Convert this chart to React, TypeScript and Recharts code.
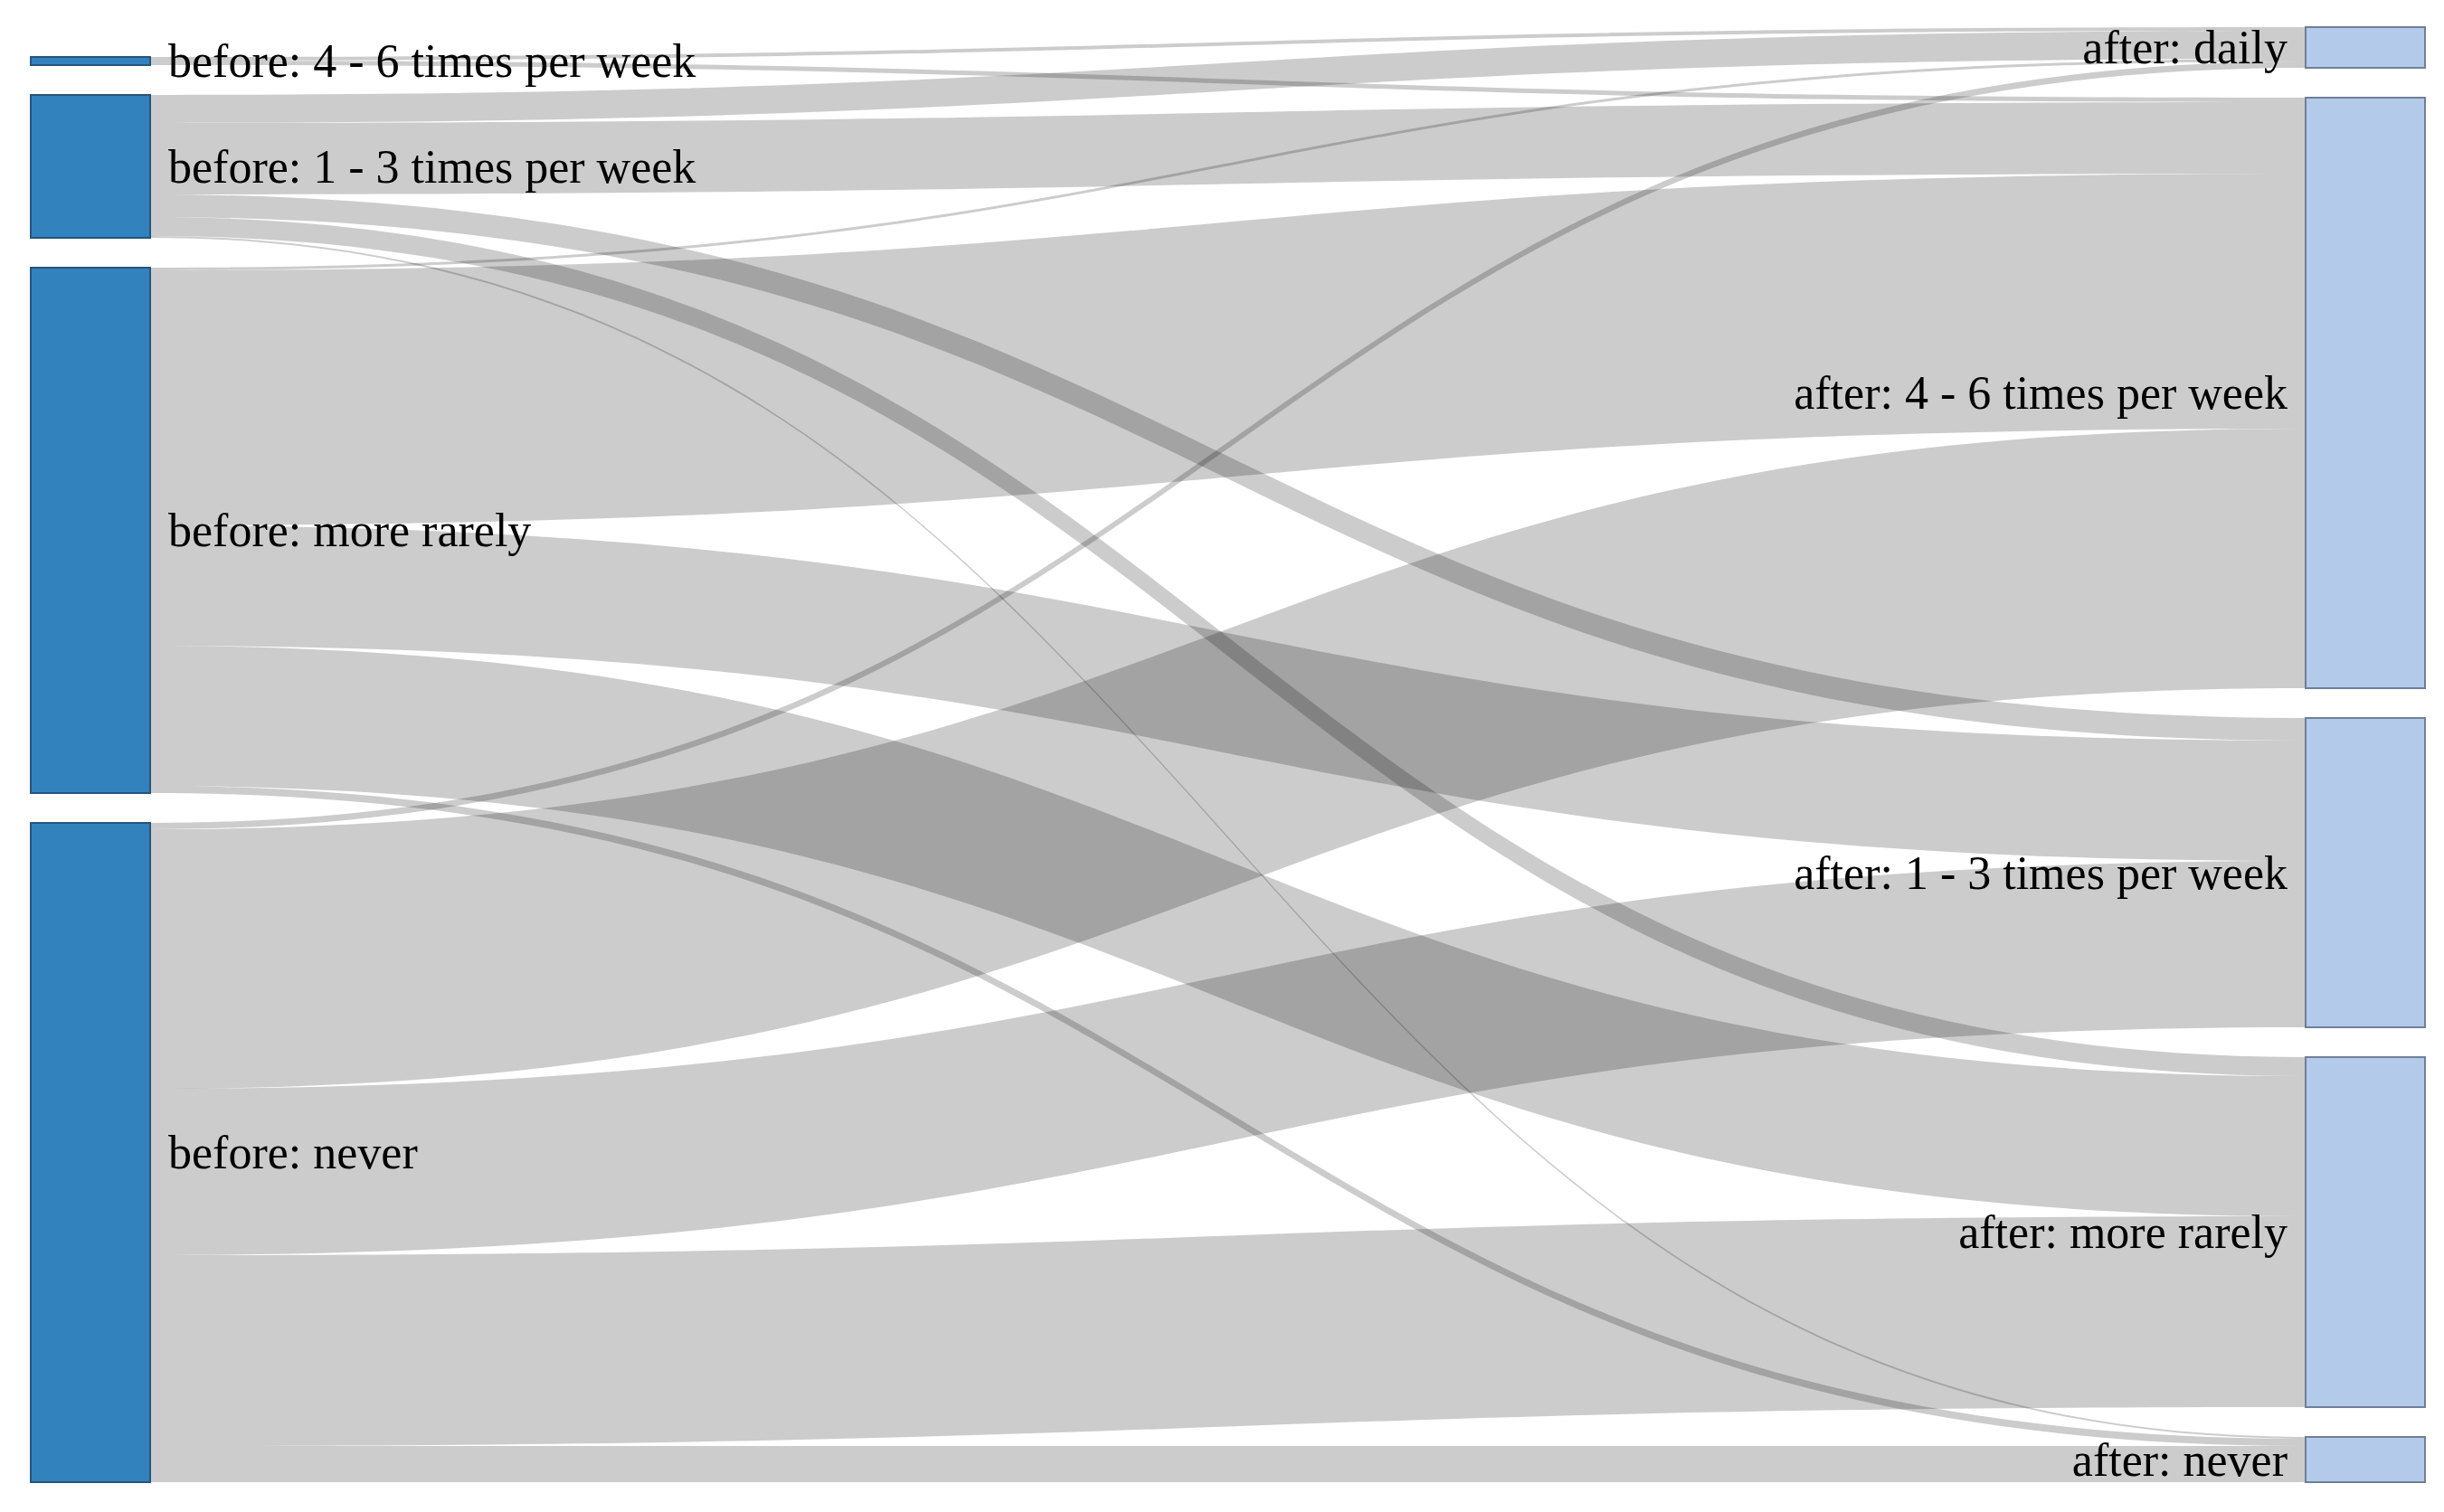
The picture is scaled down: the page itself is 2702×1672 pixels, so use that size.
import { Sankey } from 'recharts';

// node labels
const beforeLabels = [
  'before: 4 - 6 times per week',
  'before: 1 - 3 times per week',
  'before: more rarely',
  'before: never',
];
const afterLabels = [
  'after: daily',
  'after: 4 - 6 times per week',
  'after: 1 - 3 times per week',
  'after: more rarely',
  'after: never',
];

// flows out of each "before" group, one value per "after" group (same order as afterLabels)
const from4to6 = [4, 5, 0, 0, 0];
const from1to3 = [31, 79, 25, 21, 2];
const fromRarely = [3, 282, 133, 155, 8];
const fromNever = [7, 287, 184, 211, 40];

const flows = [from4to6, from1to3, fromRarely, fromNever];

// an empty spacer node on top of the left column keeps it bottom-aligned like the original
const nodes = [{ name: '' }, ...beforeLabels.map(name => ({ name })), ...afterLabels.map(name => ({ name }))];
const links: Array<{ source: number; target: number; value: number }> = [
  { source: 0, target: 1 + beforeLabels.length, value: 0 },
];
flows.forEach((row, i) => {
  row.forEach((value, j) => {
    if (value > 0) links.push({ source: 1 + i, target: 1 + beforeLabels.length + j, value });
  });
});

const FONT = "'Liberation Serif', 'Times New Roman', serif";

const renderNode = (props: any) => {
  const { x, y, width, height, payload } = props;
  if (!payload || !payload.name) return <g />;
  const left = x < 1000;
  return (
    <g>
      <rect
        x={x}
        y={y}
        width={width}
        height={height}
        fill={left ? '#3282bd' : '#b4caea'}
        stroke={left ? '#26557c' : '#6f7f98'}
        strokeWidth={2}
      />
      <text
        x={left ? x + width + 20 : x - 20}
        y={y + height / 2}
        textAnchor={left ? 'start' : 'end'}
        dominantBaseline="central"
        fontFamily={FONT}
        fontSize={52}
        fill="#000"
      >
        {payload.name}
      </text>
    </g>
  );
};

// filled band instead of a thick stroke, like the original
const renderLink = (props: any) => {
  const { sourceX, targetX, sourceY, targetY, sourceControlX, targetControlX, linkWidth } = props;
  if (!linkWidth) return <g />;
  const h = linkWidth / 2;
  const d =
    `M${sourceX},${sourceY - h} ` +
    `C${sourceControlX},${sourceY - h} ${targetControlX},${targetY - h} ${targetX},${targetY - h} ` +
    `L${targetX},${targetY + h} ` +
    `C${targetControlX},${targetY + h} ${sourceControlX},${sourceY + h} ${sourceX},${sourceY + h} Z`;
  return <path d={d} fill="#000" fillOpacity={0.2} stroke="none" />;
};

export default function App() {
  return (
    <div style={{ width: 2686, height: 1650, background: '#fff' }}>
      <Sankey
        width={2686}
        height={1650}
        data={{ nodes, links }}
        nodeWidth={132}
        nodePadding={33}
        iterations={0}
        linkCurvature={0.5}
        margin={{ top: 22, right: 13, bottom: 19, left: 26 }}
        node={renderNode}
        link={renderLink}
      />
    </div>
  );
}
